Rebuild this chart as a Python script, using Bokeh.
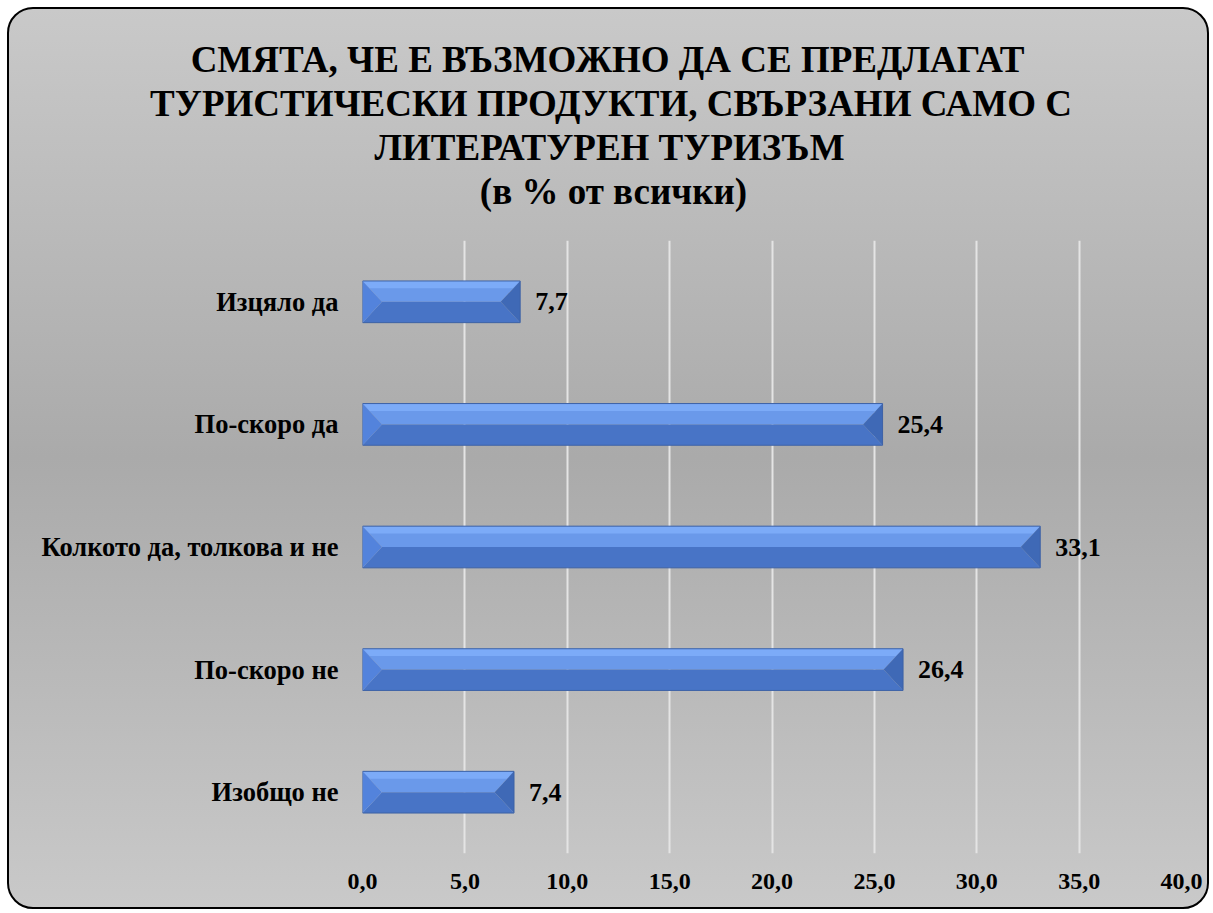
import os
import struct
from bokeh.plotting import figure
from bokeh.models import FixedTicker, CustomJSTickFormatter, Range1d, Title
from bokeh.core.properties import value
from bokeh.embed import file_html
from bokeh.resources import INLINE

categories = ["Изцяло да", "По-скоро да", "Колкото да, толкова и не", "По-скоро не", "Изобщо не"]
values = [7.7, 25.4, 33.1, 26.4, 7.4]
value_labels = ["7,7", "25,4", "33,1", "26,4", "7,4"]
x_ticks = [0, 5, 10, 15, 20, 25, 30, 35, 40]
title_lines = ["СМЯТА, ЧЕ Е ВЪЗМОЖНО ДА СЕ ПРЕДЛАГАТ",
               "ТУРИСТИЧЕСКИ ПРОДУКТИ, СВЪРЗАНИ САМО С",
               "ЛИТЕРАТУРЕН ТУРИЗЪМ",
               "(в % от всички)"]

FONT = "Liberation Serif"


# ---- text width measurement (for centring title lines) ----
def find_font(name):
    for root in ["/usr/share/fonts", "/usr/local/share/fonts", os.path.expanduser("~/.fonts")]:
        for dp, dn, fn in os.walk(root):
            if name in fn:
                return os.path.join(dp, name)
    return None


def make_width_fn(path):
    data = open(path, "rb").read()
    num = struct.unpack(">H", data[4:6])[0]
    tables = {}
    for i in range(num):
        tag, cs, off, ln = struct.unpack(">4sIII", data[12 + 16 * i:28 + 16 * i])
        tables[tag.decode("latin-1")] = off
    upm = struct.unpack(">H", data[tables["head"] + 18:tables["head"] + 20])[0]
    nhm = struct.unpack(">H", data[tables["hhea"] + 34:tables["hhea"] + 36])[0]
    hm = tables["hmtx"]
    advs = [struct.unpack(">H", data[hm + 4 * i:hm + 4 * i + 2])[0] for i in range(nhm)]
    cm = tables["cmap"]
    n = struct.unpack(">H", data[cm + 2:cm + 4])[0]
    sub = None
    for i in range(n):
        pid, eid, off = struct.unpack(">HHI", data[cm + 4 + 8 * i:cm + 12 + 8 * i])
        fmt = struct.unpack(">H", data[cm + off:cm + off + 2])[0]
        if pid == 3 and eid == 1 and fmt == 4:
            sub = cm + off
    segx2 = struct.unpack(">H", data[sub + 6:sub + 8])[0]
    seg = segx2 // 2
    ends = struct.unpack(">%dH" % seg, data[sub + 14:sub + 14 + segx2])
    starts = struct.unpack(">%dH" % seg, data[sub + 16 + segx2:sub + 16 + 2 * segx2])
    deltas = struct.unpack(">%dh" % seg, data[sub + 16 + 2 * segx2:sub + 16 + 3 * segx2])
    ro_pos = sub + 16 + 3 * segx2
    ros = struct.unpack(">%dH" % seg, data[ro_pos:ro_pos + segx2])

    def gid(c):
        for i in range(seg):
            if ends[i] >= c:
                if starts[i] > c:
                    return 0
                if ros[i] == 0:
                    return (c + deltas[i]) & 0xFFFF
                addr = ro_pos + 2 * i + ros[i] + 2 * (c - starts[i])
                g = struct.unpack(">H", data[addr:addr + 2])[0]
                return (g + deltas[i]) & 0xFFFF if g else 0
        return 0

    def width(s, size):
        return sum(advs[min(gid(ord(ch)), nhm - 1)] for ch in s) * size / upm
    return width


try:
    text_width = make_width_fn(find_font("LiberationSerif-Bold.ttf"))
except Exception:
    def text_width(s, size):
        return 0.6 * size * len(s)

W, H = 1202, 902
n = len(categories)
ys = list(range(n))

p = figure(width=W, height=H, output_backend="svg", toolbar_location=None,
           x_range=Range1d(0, 40), y_range=Range1d(n - 0.5, -0.5),
           min_border_left=353, min_border_right=30, min_border_top=231, min_border_bottom=58)
p.styles = {"background": "linear-gradient(to bottom, #c9c9c9 0%, #aaaaaa 50%, #c9c9c9 100%)",
            "border": "2px solid #000", "border-radius": "26px", "overflow": "hidden",
            "margin": "7px 0 0 7px"}
p.border_fill_color = None
p.background_fill_color = None
p.outline_line_color = None

p.ygrid.grid_line_color = None
p.xgrid.grid_line_color = "#e4e4e4"
p.xgrid.grid_line_width = 2
p.xaxis.ticker = FixedTicker(ticks=x_ticks)
p.xaxis.formatter = CustomJSTickFormatter(code="return tick.toFixed(1).replace('.', ',');")
p.yaxis.ticker = FixedTicker(ticks=ys)
p.yaxis.major_label_overrides = {i: c for i, c in enumerate(categories)}

for ax in (p.xaxis[0], p.yaxis[0]):
    ax.axis_line_color = None
    ax.major_tick_line_color = None
    ax.minor_tick_line_color = None
    ax.major_tick_out = 0
    ax.major_tick_in = 0
    ax.major_label_text_font = FONT
    ax.major_label_text_font_style = "bold"
    ax.major_label_text_color = "#000000"
p.xaxis.major_label_text_font_size = "24px"
p.xaxis.major_label_standoff = 20
p.yaxis.major_label_text_font_size = "26.5px"
p.yaxis.major_label_standoff = 24

# beveled bars
hh = 0.17
bev = 0.95
hl = 0.06
top_xs, top_ys, hl_xs, hl_ys, bot_xs, bot_ys, lt_xs, lt_ys, rt_xs, rt_ys = ([] for _ in range(10))
for y, v in zip(ys, values):
    t, b, m = y - hh, y + hh, y
    top_xs.append([0, v, v - bev, bev]); top_ys.append([t, t, m, m])
    f = hl / hh
    hl_xs.append([0, v, v - bev * f, bev * f]); hl_ys.append([t, t, t + hl, t + hl])
    bot_xs.append([0, v, v - bev, bev]); bot_ys.append([b, b, m, m])
    lt_xs.append([0, bev, 0]); lt_ys.append([t, m, b])
    rt_xs.append([v, v - bev, v]); rt_ys.append([t, m, b])

p.patches(top_xs, top_ys, fill_color="#6a99ea", line_color=None)
p.patches(hl_xs, hl_ys, fill_color="#7cabf8", line_color=None)
p.patches(bot_xs, bot_ys, fill_color="#4874c6", line_color=None)
p.patches(lt_xs, lt_ys, fill_color="#5383dc", line_color=None)
p.patches(rt_xs, rt_ys, fill_color="#3f69b6", line_color=None)
p.hbar(y=ys, right=values, left=0, height=2 * hh, fill_color=None, line_color="#3d62a6", line_width=1)

p.text(x=values, y=ys, text=value_labels, x_offset=15, text_baseline="middle", text_align="left",
       text_font=value(FONT), text_font_style="bold", text_font_size="26px", text_color="#000000")

# title: one Title per line, centred on the chart area; a blank spacer sits next to the frame
p.add_layout(Title(text=" ", standoff=15, text_font=FONT, text_font_size="10px"), "above")
title_size = round(36 * 926 / text_width(title_lines[1], 36), 1)
center_page = 613
frame_left_page = 362
for line in reversed(title_lines):
    w = text_width(line, title_size)
    p.add_layout(Title(text=line, align="left", offset=center_page - w / 2 - frame_left_page,
                       standoff=1, text_font=FONT, text_font_style="bold",
                       text_font_size=f"{title_size}px", text_color="#000000"), "above")

open("out.html", "w").write(file_html(p, INLINE))
